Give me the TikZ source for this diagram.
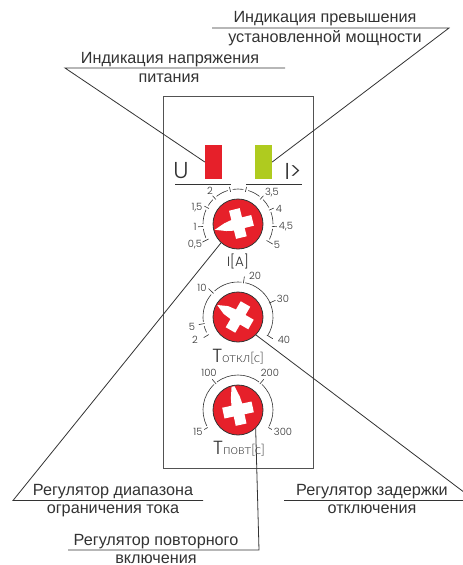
\documentclass[tikz,border=0pt]{standalone}
\usepackage{fontspec}
\setmainfont{Liberation Sans}
\newfontfamily\dialfont{Poppins Light}
\newfontfamily\unitfont{Lato Light}
\definecolor{relayred}{HTML}{E6202A}
\definecolor{relaygreen}{HTML}{AFCB1F}
\definecolor{ink}{HTML}{333333}
\tikzset{
  caption/.style={text=ink, anchor=base, font=\fontsize{16.2}{18}\selectfont, inner sep=0pt},
  leader/.style={draw=ink, line width=0.8pt},
  led/.style={minimum width=17pt, minimum height=34pt, inner sep=0pt},
  knob/.style={circle, draw=ink, line width=0.8pt, fill=relayred, minimum size=50pt, inner sep=0pt},
  dial/.style={draw=ink, line width=0.6pt},
  scalemark/.style={text=ink, font=\dialfont\fontsize{10}{11}\selectfont, inner sep=0pt},
  unitmark/.style={text=ink, font=\unitfont\fontsize{13.5}{15}\selectfont, inner sep=0pt},
  bigmark/.style={text=ink, font=\dialfont\fontsize{23}{25}\selectfont, inner sep=0pt},
  pointer/.style={fill=white, draw=none},
}
\begin{document}
\begin{tikzpicture}[x=1pt, y=1pt]
\path [use as bounding box, clip] (0,0) rectangle (463,-565);
\fill [white] (0,0) rectangle (463,-565);
%
\draw [draw=ink!85, line width=0.9pt] (163.5,-96) rectangle (313,-468);
%
\node [led, fill=relayred]   (ledu) at (213.5,-162) {};
\node [led, fill=relaygreen] (ledi) at (263.5,-162) {};
\draw [leader] (175,-184) -- (231,-184);
\draw [leader] (246,-184) -- (302,-184);
\node [bigmark] (letu) at (181,-171) {U};
\node [bigmark] (leti) at (293,-171) {I>};
%
\node [knob] (knoba) at (238,-224) {};
\node [knob] (knobb) at (238,-317) {};
\node [knob] (knobc) at (238,-410) {};
%
% white crosses
\fill [pointer, shift={(knoba)}, rotate=194]
  (24,0) -- (13,4) -- (5.5,5.5) -- (5.5,14) -- (-5.5,14) -- (-5.5,5.5) -- (-15,5.5)
  -- (-15,-5.5) -- (-5.5,-5.5) -- (-5.5,-15) -- (5.5,-15) -- (5.5,-5.5) -- (13,-4) -- cycle;
\fill [pointer, shift={(knobb)}, rotate=150]
  (24,0) -- (14,4.5) -- (5.5,5.5) -- (5.5,15) -- (-5.5,15) -- (-5.5,5.5) -- (-15,5.5)
  -- (-15,-5.5) -- (-5.5,-5.5) -- (-5.5,-15) -- (5.5,-15) -- (5.5,-5.5) -- (14,-4.5) -- cycle;
\fill [pointer, shift={(knobc)}, rotate=102]
  (24,1.5) -- (13,4.5) -- (5.5,5.5) -- (5.5,15) -- (-5.5,15) -- (-5.5,5.5) -- (-15,5.5)
  -- (-15,-5.5) -- (-5.5,-5.5) -- (-5.5,-15) -- (5.5,-15) -- (5.5,-5.5) -- (13,-4.5) -- (24,-1.5) -- cycle;
%
% dial of the current knob
\draw [dial] (knoba) ++(-26:35) arc (-26:-8:35);
\draw [dial] (knoba) ++(0:35) arc (0:20:35);
\draw [dial] (knoba) ++(28:35) arc (28:44:35);
\draw [dial] (knoba) ++(52:35) arc (52:73:35);
\draw [dial] (knoba) ++(81:35) arc (81:99:35);
\draw [dial] (knoba) ++(107:35) arc (107:128:35);
\draw [dial] (knoba) ++(136:35) arc (136:148:35);
\draw [dial] (knoba) ++(156:35) arc (156:180:35);
\draw [dial] (knoba) ++(188:35) arc (188:203:35);
\draw [dial] (knoba) ++(-30:33) -- ++(-30:7);
\draw [dial] (knoba) ++(-4:34) -- ++(-4:5);
\draw [dial] (knoba) ++(24:34) -- ++(24:5);
\draw [dial] (knoba) ++(48:33) -- ++(48:5);
\draw [dial] (knoba) ++(77:33) -- ++(77:5);
\draw [dial] (knoba) ++(103:33) -- ++(103:5);
\draw [dial] (knoba) ++(132:33) -- ++(132:5);
\draw [dial] (knoba) ++(152:33) -- ++(152:5);
\draw [dial] (knoba) ++(184:35) -- ++(184:5);
\draw [dial] (knoba) ++(207:33) -- ++(207:7);
%
% dial of the off delay knob
\draw [dial] (knobb) ++(-32:35) arc (-32:78:35);
\draw [dial] (knobb) ++(84:35) arc (84:132:35);
\draw [dial] (knobb) ++(140:35) arc (140:188:35);
\draw [dial] (knobb) ++(195:35) arc (195:206:35);
\draw [dial] (knobb) ++(-32:34) -- ++(-32:7);
\draw [dial] (knobb) ++(24:34) -- ++(24:7);
\draw [dial] (knobb) ++(81:34) -- ++(81:7);
\draw [dial] (knobb) ++(136:34) -- ++(136:7);
\draw [dial] (knobb) ++(191:34) -- ++(191:6);
\draw [dial] (knobb) ++(211:34) -- ++(211:6);
%
% dial of the repeat knob
\draw [dial] (knobc) ++(-28:35) arc (-28:47:35);
\draw [dial] (knobc) ++(53:35) arc (53:127:35);
\draw [dial] (knobc) ++(133:35) arc (133:207:35);
\draw [dial] (knobc) ++(-30:35) -- ++(-30:4);
\draw [dial] (knobc) ++(50:34) -- ++(50:6);
\draw [dial] (knobc) ++(130:34) -- ++(130:6);
\draw [dial] (knobc) ++(210:35) -- ++(210:4);
%
\node [scalemark] (aa) at (210,-191) {2};
\node [scalemark] (ab) at (197,-208) {1,5};
\node [scalemark] (ac) at (195,-227) {1};
\node [scalemark] (ad) at (195,-245) {0,5};
\node [scalemark] (ae) at (272,-193) {3,5};
\node [scalemark] (af) at (279,-209) {4};
\node [scalemark] (ag) at (286,-227) {4,5};
\node [scalemark] (ah) at (277,-245) {5};
\node [scalemark] (ba) at (255,-276) {20};
\node [scalemark] (bb) at (202,-288) {10};
\node [scalemark] (bc) at (283,-299) {30};
\node [scalemark] (bd) at (192,-327) {5};
\node [scalemark] (be) at (195,-340) {2};
\node [scalemark] (bf) at (284,-340) {40};
\node [scalemark] (ca) at (209,-373) {100};
\node [scalemark] (cb) at (270,-373) {200};
\node [scalemark] (cc) at (198,-432) {15};
\node [scalemark] (cd) at (283,-432) {300};
%
\node [unitmark, font=\dialfont\fontsize{13.5}{15}\selectfont] (unita) at (238,-261) {I[A]};
\node [unitmark] (unitb) at (238,-357) {{\dialfont\fontsize{19}{20}\selectfont T}откл[с]};
\node [unitmark] (unitc) at (239,-449) {{\dialfont\fontsize{19}{20}\selectfont T}повт[с]};
%
% leaders from the top captions
\coordinate (topal) at (65,-68);
\coordinate (topar) at (285,-68);
\coordinate (topbl) at (212,-28);
\coordinate (topbr) at (449,-28);
\draw [leader] (ledu.west) -- (topal) -- (topar);
\draw [leader] (ledi.east) -- (topbr) -- (topbl);
\node [caption] (capaa) at (170,-63) {Индикация напряжения};
\node [caption] (capab) at (169,-82) {питания};
\node [caption] (capba) at (325,-22) {Индикация превышения};
\node [caption] (capbb) at (325,-42) {установленной мощности};
%
% leaders from the knobs
\coordinate (lowal) at (13,-500.5);
\coordinate (lowar) at (203,-500.5);
\coordinate (lowbl) at (284,-500.5);
\coordinate (lowbr) at (475,-500.5);
\coordinate (lowcl) at (68,-550);
\coordinate (lowcr) at (259,-550);
\draw [leader] (knoba.228) -- (lowal) -- (lowar);
\draw [leader] (knobb.-45) -- (lowbr) -- (lowbl);
\draw [leader] (knobc.-46) -- (lowcr) -- (lowcl);
\node [caption] (capca) at (113,-495) {Регулятор диапазона};
\node [caption] (capcb) at (113,-513) {ограничения тока};
\node [caption] (capda) at (372,-495) {Регулятор задержки};
\node [caption] (capdb) at (372,-513) {отключения};
\node [caption] (capea) at (156,-545) {Регулятор повторного};
\node [caption] (capeb) at (156,-563) {включения};
\end{tikzpicture}
\end{document}
